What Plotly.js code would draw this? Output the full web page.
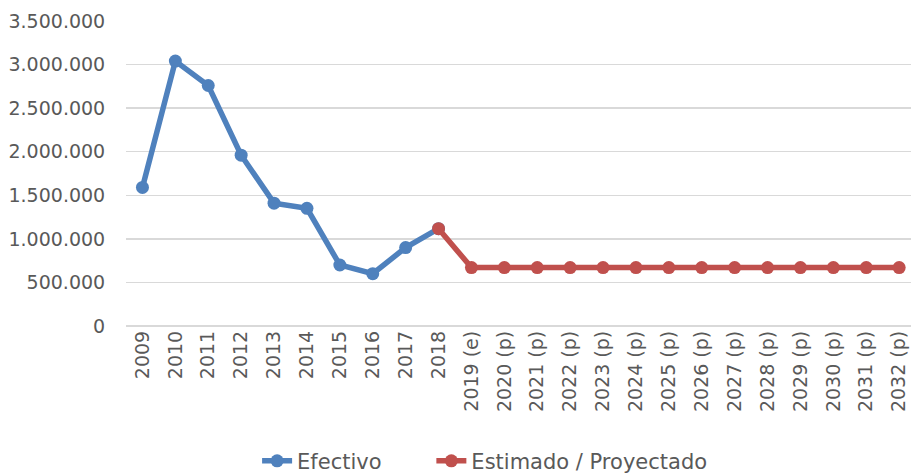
<!DOCTYPE html>
<html>
<head>
<meta charset="utf-8">
<script src="https://cdn.plot.ly/plotly-3.0.1.min.js"></script>
<style>html,body{margin:0;padding:0;background:#fff;}#chart{width:911px;height:474px;}</style>
</head>
<body>
<div id="chart"></div>
<script>
var categories = ["2009","2010","2011","2012","2013","2014","2015","2016","2017","2018",
  "2019 (e)","2020 (p)","2021 (p)","2022 (p)","2023 (p)","2024 (p)","2025 (p)","2026 (p)",
  "2027 (p)","2028 (p)","2029 (p)","2030 (p)","2031 (p)","2032 (p)"];
var efectivo = [1590000,3040000,2760000,1960000,1410000,1350000,700000,600000,900000,1117000,
  null,null,null,null,null,null,null,null,null,null,null,null,null,null];
var estimado = [null,null,null,null,null,null,null,null,null,1117000,
  670000,670000,670000,670000,670000,670000,670000,670000,670000,670000,670000,670000,670000,670000];
var seriesNames = ["Efectivo","Estimado / Proyectado"];
var yTicks = [0,500000,1000000,1500000,2000000,2500000,3000000,3500000];

var FONT = "DejaVu Sans";
var GREY = "#595959";
var traces = [
  {x: categories, y: efectivo, name: seriesNames[0], type: "scatter", mode: "lines+markers",
   line: {color: "#4F81BD", width: 5.5}, marker: {color: "#4F81BD", size: 13}, connectgaps: false, legend: "legend"},
  {x: categories, y: estimado, name: seriesNames[1], type: "scatter", mode: "lines+markers",
   line: {color: "#C0504D", width: 5.5}, marker: {color: "#C0504D", size: 13}, connectgaps: false, legend: "legend2"}
];
var legFont = {family: FONT, size: 21, color: GREY};
var layout = {
  width: 911, height: 474,
  margin: {l: 126, r: 0, t: 21, b: 148},
  paper_bgcolor: "#fff", plot_bgcolor: "#fff",
  separators: ",.",
  font: {family: FONT, size: 19, color: GREY},
  showlegend: true,
  legend: {orientation: "h", x: 0.167, xanchor: "left", yref: "container", y: 0.027, yanchor: "middle", font: legFont, bgcolor: "rgba(0,0,0,0)"},
  legend2: {orientation: "h", x: 0.389, xanchor: "left", yref: "container", y: 0.027, yanchor: "middle", font: legFont, bgcolor: "rgba(0,0,0,0)"},
  xaxis: {type: "category", categoryorder: "array", categoryarray: categories,
    range: [-0.5, 23.36], tickangle: -90, showgrid: false, showline: false, zeroline: false,
    ticks: "", tickfont: {family: FONT, size: 19, color: GREY}, fixedrange: true, automargin: false},
  yaxis: {range: [0, 3500000], tickvals: yTicks, tickformat: ",d", showgrid: true,
    gridcolor: "#D9D9D9", gridwidth: 1.5, zeroline: true, zerolinecolor: "#D9D9D9", zerolinewidth: 1.5,
    showline: false, ticks: "outside", ticklen: 16, tickcolor: "rgba(0,0,0,0)",
    tickfont: {family: FONT, size: 19, color: GREY}, fixedrange: true, automargin: false}
};
Plotly.newPlot("chart", traces, layout, {displayModeBar: false, staticPlot: true});
</script>
</body>
</html>
